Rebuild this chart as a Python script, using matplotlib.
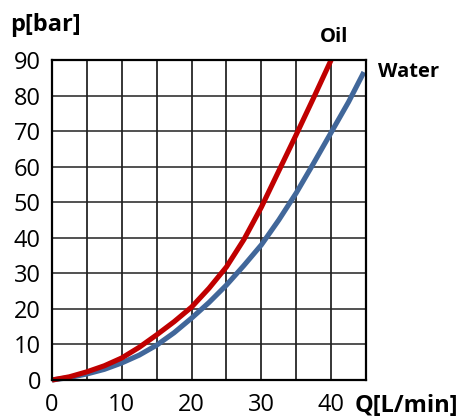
import matplotlib
matplotlib.use("Agg")
import matplotlib.pyplot as plt

plt.rcParams['font.family'] = ['Open Sans', 'DejaVu Sans']

# Data
q_oil = [0, 2.5, 5, 7.5, 10, 12.5, 15, 17.5, 20, 22.5, 25, 27.5, 30, 32.5, 35, 37.5, 40]
p_oil = [0, 0.9, 2.3, 4.0, 6.2, 9.2, 12.7, 16.4, 20.5, 25.8, 31.8, 39.5, 48.6, 58.8, 69.0, 79.4, 90]
q_water = [0, 2.5, 5, 7.5, 10, 12.5, 15, 17.5, 20, 22.5, 25, 27.5, 30, 32.5, 35, 37.5, 40, 42.5, 44.7]
p_water = [0, 0.7, 1.7, 3.0, 4.8, 7.0, 9.8, 13.3, 17.4, 21.8, 26.7, 32.2, 38.0, 45.0, 52.6, 61.0, 69.6, 78.2, 86.6]
x_ticks = [0, 10, 20, 30, 40]
y_ticks = [0, 10, 20, 30, 40, 50, 60, 70, 80, 90]
x_grid = [0, 5, 10, 15, 20, 25, 30, 35, 40, 45]

fig = plt.figure(figsize=(4.69, 4.19), dpi=100)
ax = fig.add_axes([52/469, 39/419, 314/469, 320/419])

ax.set_xlim(0, 45)
ax.set_ylim(0, 90)
for xv in x_grid:
    ax.axvline(xv, color='black', lw=1.1, zorder=1)
for yv in y_ticks:
    ax.axhline(yv, color='#222222', lw=1.1, zorder=1)

ax.plot(q_water, p_water, color='#41679A', lw=3.7, zorder=3, clip_on=False, solid_capstyle='butt')
ax.plot(q_oil, p_oil, color='#C00000', lw=3.7, zorder=4, clip_on=False, solid_capstyle='butt')

ax.set_xticks(x_ticks)
ax.set_yticks(y_ticks)
ax.tick_params(length=0, labelsize=17)
ax.tick_params(axis='y', pad=8)
ax.tick_params(axis='x', pad=9)
for s in ax.spines.values():
    s.set_linewidth(1.6)
    s.set_color('black')
    s.set_zorder(5)

fig.text(10/469, 1 - 25/419, 'p[bar]', fontsize=17, fontweight='bold', ha='left', va='center')
fig.text(355/469, 1 - 406/419, 'Q[L/min]', fontsize=17, fontweight='bold', ha='left', va='center')
fig.text(334/469, 1 - 37/419, 'Oil', fontsize=14.5, fontweight='bold', ha='center', va='center')
fig.text(378/469, 1 - 72/419, 'Water', fontsize=14.5, fontweight='bold', ha='left', va='center')

fig.savefig('out.png', dpi=100)
